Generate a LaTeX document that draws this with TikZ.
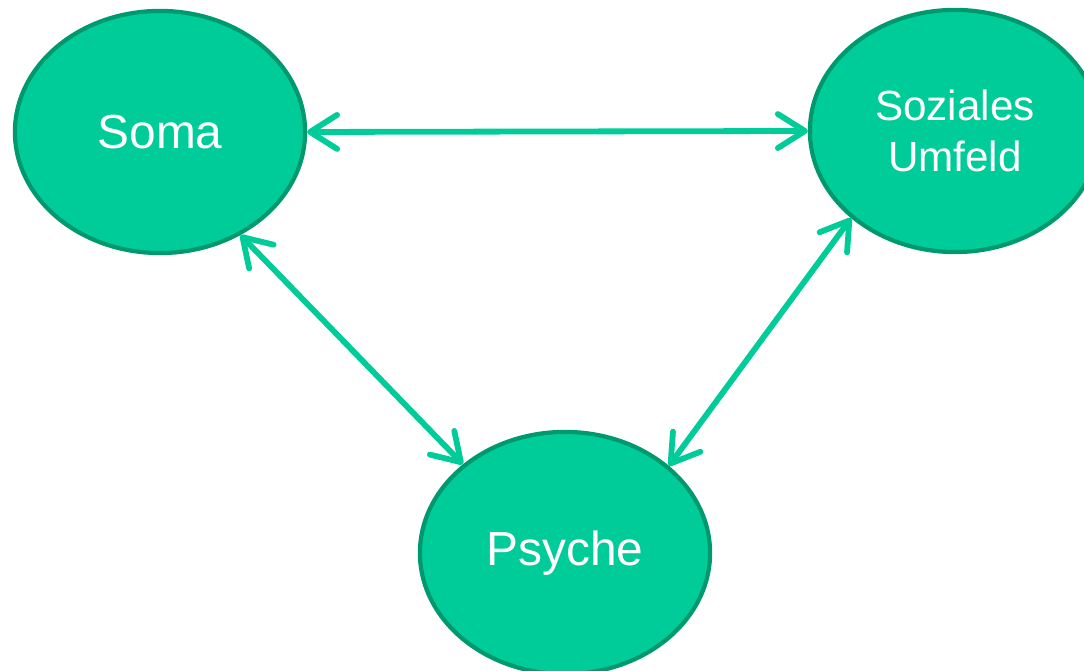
\documentclass[tikz,border=0pt]{standalone}
\usepackage{fontspec}
\setmainfont{Liberation Sans}
\usetikzlibrary{shapes.geometric,arrows.meta}
\definecolor{blobfill}{HTML}{00CC99}
\definecolor{blobedge}{HTML}{00996E}
\begin{document}
\begin{tikzpicture}[x=0.01cm, y=-0.01cm,
    blob/.style={ellipse, draw=blobedge, line width=1.2pt, fill=blobfill,
      minimum width=2.9cm, minimum height=2.42cm, inner sep=0pt,
      text=white, align=center, font=\fontsize{13.6}{14.5}\selectfont},
    link/.style={draw=blobfill, line width=1.65pt, line cap=round,
      {Straight Barb[length=2.7mm, width=3.4mm, round]}-{Straight Barb[length=2.7mm, width=3.4mm, round]}}]
  \useasboundingbox (0,0) rectangle (1084,671);
  \clip (0,0) rectangle (1084,671);
  % Nodes
  \node[blob] (soma) at (160,132) {Soma};
  \node[blob, font=\fontsize{12}{14.5}\selectfont] (umfeld) at (955,131) {Soziales\\Umfeld};
  \node[blob] (psyche) at (565,553) {Psyche};

  % Links
  \draw[link] (soma.east) -- (umfeld.west);
  \draw[link] (soma.-52) -- (psyche.139.5);
  \draw[link] (umfeld.220.8) -- (psyche.40.5);
\end{tikzpicture}
\end{document}
